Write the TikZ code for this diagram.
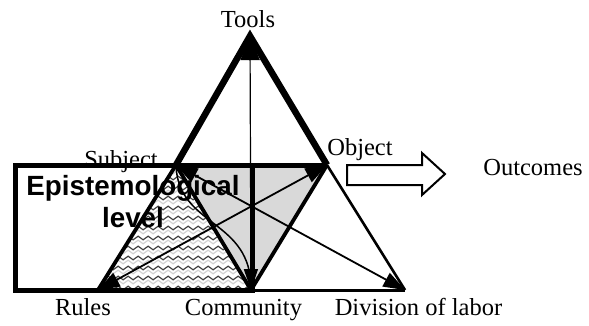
\documentclass[tikz,border=0pt]{standalone}
\usepackage{fontspec}
\setmainfont{Liberation Serif}
\newfontfamily\headsans{Liberation Sans}
\usetikzlibrary{calc,decorations.pathmorphing}
% filled arrow head: tip at #1, pointing away from #2, half-angle #3, side length #4
\newcommand\tiphead[4]{%
  \fill (#1) -- ($(#1)!#4!#3:(#2)$) -- ($(#1)!#4!-#3:(#2)$) -- cycle;}
\begin{document}
\begin{tikzpicture}[x=1pt,y=-1pt,
  lbl/.style={anchor=base,inner sep=0pt,font=\fontsize{24.5}{28}\selectfont},
  heading/.style={anchor=base,inner sep=0pt,font=\headsans\bfseries\fontsize{27.8}{32}\selectfont},
  levelbox/.style={line width=5pt},
  heavy/.style={line width=6.5pt,line join=miter},
  medium/.style={line width=3.8pt},
  lightedge/.style={line width=2.6pt},
  relation/.style={line width=1.8pt},
  axis/.style={line width=1.2pt},
  wave/.style={line width=1.2pt,decorate,decoration={snake,segment length=10pt,amplitude=1.8pt}},
  bigarrow/.style={draw,line width=2pt,fill=white,line join=miter}]
\useasboundingbox (0,0) rectangle (589,325);

% vertices of the activity system
\coordinate (T) at (250,36);
\coordinate (S) at (176,165);
\coordinate (O) at (327,165);
\coordinate (R) at (98,290);
\coordinate (C) at (251,290);
\coordinate (D) at (405,290);

% shaded and patterned inner triangles
\fill[gray!30] (S) -- (O) -- (C) -- cycle;
\begin{scope}
  \clip (S) -- (R) -- (C) -- cycle;
  \foreach \yy in {168,178,...,292} {
    \draw[wave,black!75] (85,\yy) -- (265,\yy);
    \draw[wave,gray!35] (85,\yy+4) -- (265,\yy+4);
  }
\end{scope}

% mediating relations
\draw[axis] (T) -- (C);
\draw[relation] (S) -- (D);
\draw[relation] (R) -- (O);
\draw[line width=1.5pt] (S) .. controls (178,228) and (252,218) .. (C);
\tiphead{T}{C}{22}{26pt}
\tiphead{C}{T}{19}{22pt}
\tiphead{S}{D}{20}{23pt}
\tiphead{D}{S}{20}{23pt}
\tiphead{R}{O}{20}{23pt}
\tiphead{O}{R}{20}{23pt}

% outer edges
\draw[medium] (S) -- (R);
\draw[medium] (S) -- (C);
\draw[medium] (O) -- (C);
\draw[lightedge] (O) -- (D);
\draw[line width=3pt] (C) -- (D);

% labels
\node[lbl] (tools) at (248,27) {Tools};
\node[lbl] (subject) at (121,167) {Subject};
\node[lbl] (object) at (360,155) {Object};
\node[lbl] (outcomes) at (533,175) {Outcomes};
\node[lbl] (rules) at (83,315) {Rules};
\node[lbl] (community) at (243.5,315) {Community};
\node[lbl] (division) at (418.5,315) {Division of labor};

% epistemological level frame
\draw[levelbox] (15,165.5) rectangle (252.5,290.5);

% tool triangle
\draw[heavy] (S) -- (T) -- (O);
\draw[levelbox] (S) -- (O);

\node[heading] (epi) at (133,195) {Epistemological};
\node[heading] (lvl) at (133,227) {level};

% outcome arrow
\draw[bigarrow] (347,165) -- (422,165) -- (422,153) -- (445,174) -- (422,195) -- (422,185) -- (347,185) -- cycle;
\end{tikzpicture}
\end{document}
